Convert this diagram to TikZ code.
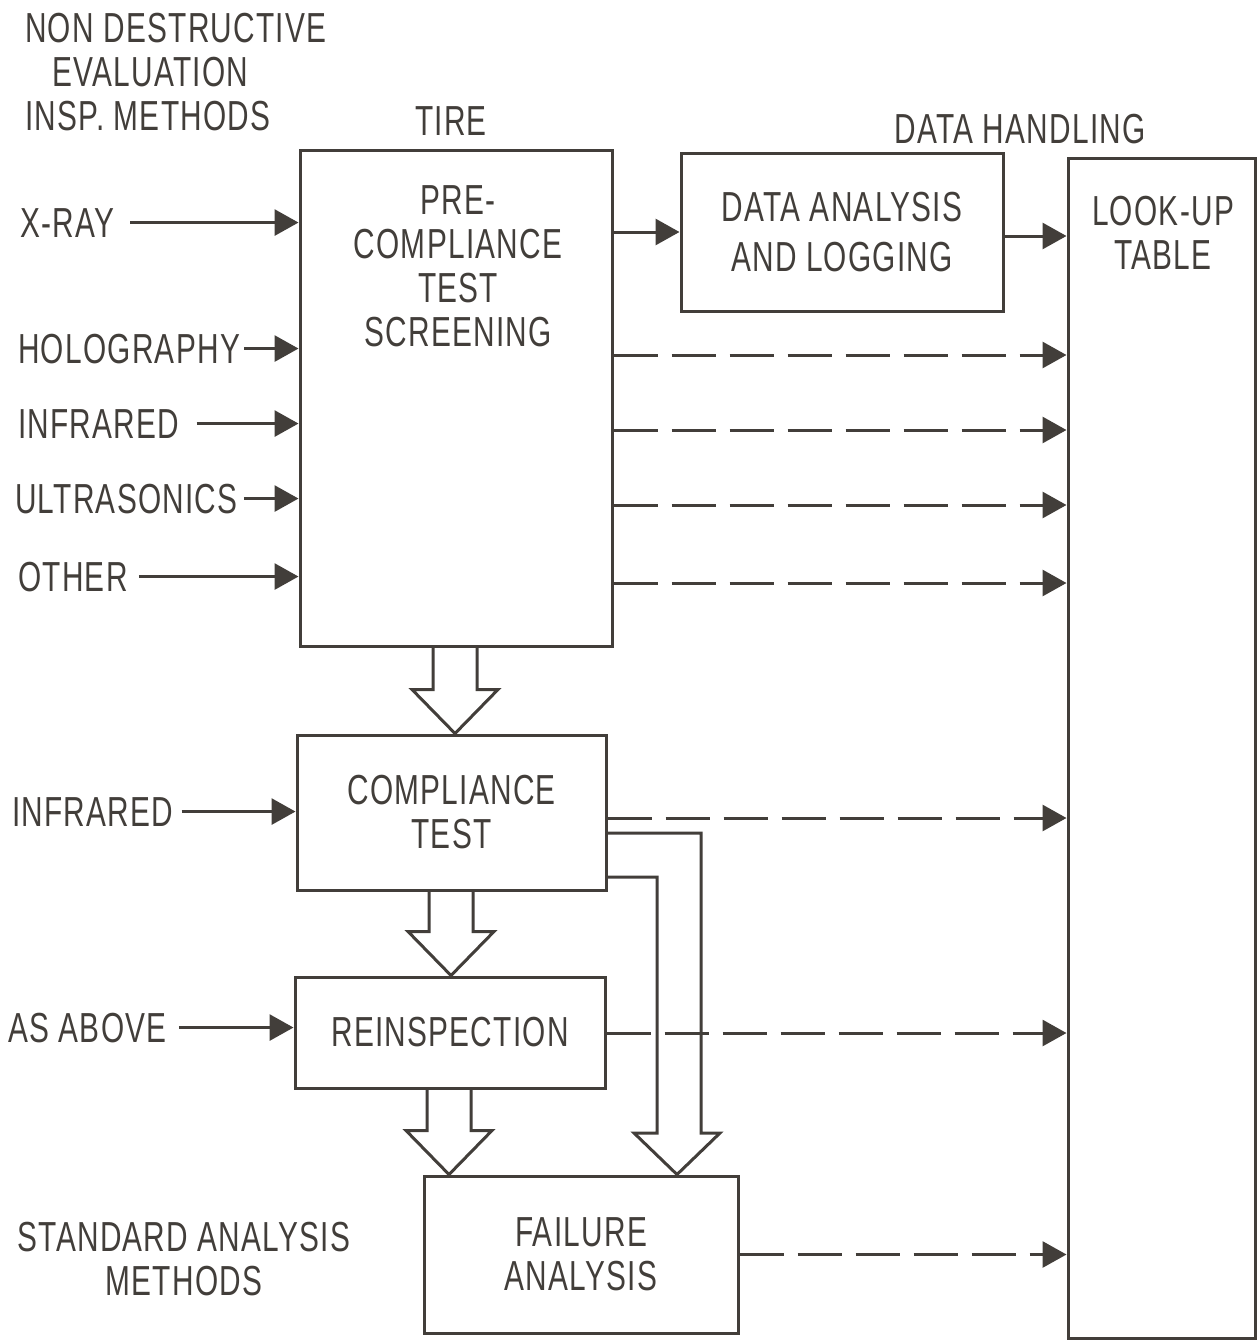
\documentclass[tikz,border=0pt]{standalone}
\usepackage{fontspec}
\setmainfont{Liberation Sans}[FakeStretch=0.71,LetterSpace=3]
\usepackage{tikz}
\usetikzlibrary{arrows.meta}
\usetikzlibrary{calc}

\definecolor{ink}{HTML}{423E3A}

\newcommand{\fatarrow}[3]{%
\draw[fat] ({#1-22},0 |- #2.south) -- ($({#1-22},0 |- #3.north)+(0,-44)$) -- ++(-21,0)
  -- (#1,0 |- #3.north) -- ($({#1+22},0 |- #3.north)+(21,-44)$) -- ++(-21,0) -- ({#1+22},0 |- #2.south);}

\begin{document}
\begin{tikzpicture}[x=1pt,y=-1pt,
  every node/.style={text=ink,font=\fontsize{42}{44}\selectfont},
  box/.style={draw=ink,line width=3pt,inner sep=0pt,align=center},
  txt/.style={align=center,inner sep=0pt},
  arr/.style={draw=ink,line width=3pt,-{Triangle[length=24pt,width=26pt]}},
  dasharr/.style={arr,dash pattern=on 44pt off 14pt},
  fat/.style={draw=ink,line width=3pt,line join=miter}]

\useasboundingbox (0,0) rectangle (1257,1341);

\node (nde) at (25,13) [txt,anchor=north west,align=left] {NON DESTRUCTIVE\\\hspace*{27pt}EVALUATION\\INSP. METHODS};
\node (tire) at (451,135) [txt,anchor=base] {TIRE};
\node (handling) at (1020,143) [txt,anchor=base] {DATA HANDLING};
\node (std) at (184,1222) [txt,anchor=north] {STANDARD ANALYSIS\\METHODS};

\node (pre) at (456,398) [box,minimum width=312,minimum height=496] {};
\node (pretext) at (458,185) [txt,anchor=north] {PRE-\\COMPLIANCE\\TEST\\SCREENING};
\node (anal) at (842,232) [box,minimum width=322,minimum height=158] {DATA ANALYSIS\\[6pt]AND LOGGING};
\node (look) at (1161.5,748) [box,minimum width=187,minimum height=1180] {};
\node (looktext) at (1163,196) [txt,anchor=north] {LOOK-UP\\TABLE};
\node (comp) at (451.5,812.5) [box,minimum width=309,minimum height=155] {COMPLIANCE\\TEST};
\node (reinsp) at (450,1032.5) [box,minimum width=310,minimum height=111] {REINSPECTION};
\node (fail) at (581,1254.5) [box,minimum width=314,minimum height=157] {FAILURE\\ANALYSIS};

\node (xray) at (20,237) [txt,anchor=base west] {X-RAY};
\node (holo) at (18,363) [txt,anchor=base west] {HOLOGRAPHY};
\node (ir) at (18,438) [txt,anchor=base west] {INFRARED};
\node (us) at (15,513) [txt,anchor=base west] {ULTRASONICS};
\node (other) at (18,591) [txt,anchor=base west] {OTHER};
\node (irc) at (12,826) [txt,anchor=base west] {INFRARED};
\node (asab) at (8,1042) [txt,anchor=base west] {AS ABOVE};

\draw[arr] ([xshift=16pt]xray.east) -- (xray.east -| pre.west);
\draw[arr] ([xshift=4pt]holo.east) -- (holo.east -| pre.west);
\draw[arr] ([xshift=17pt]ir.east) -- (ir.east -| pre.west);
\draw[arr] ([xshift=6pt]us.east) -- (us.east -| pre.west);
\draw[arr] ([xshift=11pt]other.east) -- (other.east -| pre.west);
\draw[arr] ([xshift=8pt]irc.east) -- (irc.east -| comp.west);
\draw[arr] ([xshift=12pt]asab.east) -- (asab.east -| reinsp.west);

\draw[arr] (pre.east |- anal.west) -- (anal.west);
\draw[arr] (anal.east |- 0,236) -- (look.west |- 0,236);

\draw[dasharr] (pre.east |- 0,355) -- (look.west |- 0,355);
\draw[dasharr] (pre.east |- 0,430) -- (look.west |- 0,430);
\draw[dasharr] (pre.east |- 0,505) -- (look.west |- 0,505);
\draw[dasharr] (pre.east |- 0,583) -- (look.west |- 0,583);
\draw[dasharr] (comp.east |- 0,818) -- (look.west |- 0,818);
\draw[dasharr] (reinsp.east |- 0,1033) -- (look.west |- 0,1033);
\draw[dasharr] (fail.east) -- (fail.east -| look.west);

\fatarrow{455}{pre}{comp}
\fatarrow{451}{comp}{reinsp}
\fatarrow{449}{reinsp}{fail}

\draw[fat] (comp.east |- 0,833) -- (701,833) -- (701,1133) -- (720,1133) -- (677,0 |- fail.north)
  -- (634,1133) -- (657,1133) -- (657,877) -- (comp.east |- 0,877);

\end{tikzpicture}
\end{document}
